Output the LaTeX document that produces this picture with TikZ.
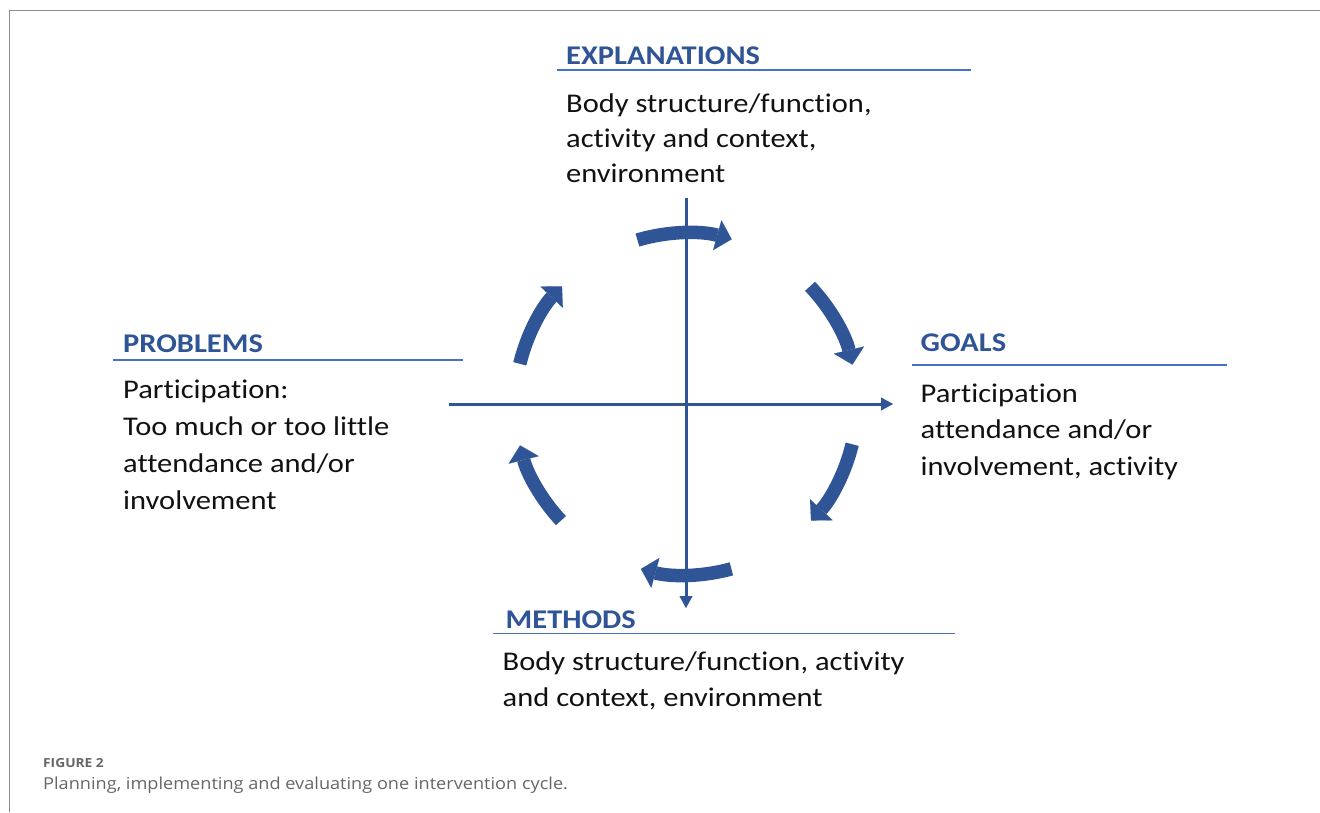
\documentclass[tikz,border=0pt]{standalone}
\usepackage{fontspec}
\setmainfont{Carlito}[FakeStretch=1.13, Ligatures=NoCommon]
\newfontfamily\capfont{Open Sans}[FakeStretch=1.1]
\usetikzlibrary{arrows.meta}
\definecolor{dblue}{HTML}{2F5597}
\definecolor{lblue}{HTML}{4472C4}
\definecolor{txt}{HTML}{111111}
\definecolor{frame}{HTML}{8C8C8C}
\definecolor{capgray}{HTML}{666666}
\tikzset{
  cyc/.style={draw=dblue, line width=13.5pt, line cap=butt,
    -{Triangle[length=15pt,width=31pt,line width=0.1pt]}},
  axis/.style={draw=dblue, line width=3pt,
    -{Triangle[length=12pt,width=13pt,line width=0.1pt]}},
  rule/.style={draw=lblue, line width=1.4pt},
  head/.style={anchor=base west, inner sep=0pt, text=dblue,
    font=\fontsize{27}{32}\selectfont\bfseries},
  body/.style={anchor=base west, inner sep=0pt, text=txt, align=left},
  capt/.style={anchor=base west, inner sep=0pt, text=capgray},
}
\begin{document}
\begin{tikzpicture}[x=1pt,y=-1pt]
\useasboundingbox (0,0) rectangle (1320,812);
% frame
\draw[frame, line width=1.5pt] (9.5,812) -- (9.5,10.5) -- (1320,10.5);
% centre and axes
\coordinate (O) at (686,404);
\coordinate (vtop) at (686,198);
\coordinate (vbot) at (686,608);
\coordinate (hleft) at (449,404);
\coordinate (hright) at (893,404);
\draw[axis] (vtop) -- (vbot);
\draw[axis] (hleft) -- (hright);
% cycle arrows (clockwise)
\foreach \a/\b in {-106.5/-74.5, -43.5/-13.3, 13.6/43, 74.6/105.3, 137/166, -166.4/-136.5}{
  \draw[cyc] ([shift={(\a:171)}]O) arc[start angle=\a, end angle=\b, radius=171];
}
% headers and rules
\node[head] (hexp) at (566,64.3) {EXPLANATIONS};
\draw[rule] (557,70) coordinate (rexpL) -- (970.7,70) coordinate (rexpR);
\node[head] (hprob) at (123,352.3) {PROBLEMS};
\draw[rule] (113,360) coordinate (rprobL) -- (462.7,360) coordinate (rprobR);
\node[head] (hgoal) at (920.5,351.7) {GOALS};
\draw[rule] (911.7,365) coordinate (rgoalL) -- (1226.7,365) coordinate (rgoalR);
\node[head] (hmeth) at (505.5,628.3) {METHODS};
\draw[rule] (492.7,633.3) coordinate (rmethL) -- (955,633.3) coordinate (rmethR);
% body texts (anchored at the last baseline)
\node[body, font=\fontsize{27}{35}\selectfont] (texp) at (566,182.3)
  {Body structure/function,\\activity and context,\\environment};
\node[body, font=\fontsize{27}{36.7}\selectfont] (tprob) at (123,509)
  {Participation:\\Too much or too little\\attendance and/or\\involvement};
\node[body, font=\fontsize{27}{36.3}\selectfont] (tgoal) at (920.5,475)
  {Participation\\attendance and/or\\involvement, activity};
\node[body, font=\fontsize{27}{36}\selectfont] (tmeth) at (502.5,706)
  {Body structure/function, activity\\and context, environment};
% caption
\node[capt, font=\capfont\fontsize{12.5}{14}\selectfont\bfseries] (figno) at (43,767) {FIGURE 2};
\node[capt, font=\capfont\fontsize{16.5}{18}\selectfont] (cap) at (43,789) {Planning, implementing and evaluating one intervention cycle.};
\end{tikzpicture}
\end{document}
